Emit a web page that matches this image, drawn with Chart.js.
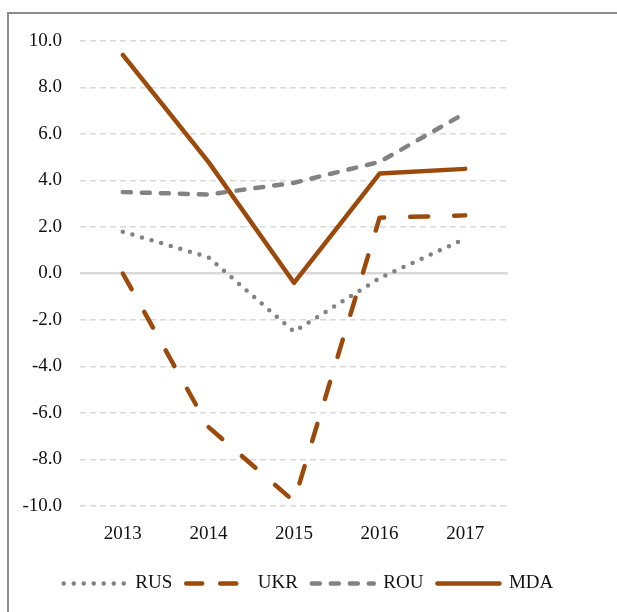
<!DOCTYPE html>
<html>
<head>
<meta charset="utf-8">
<script src="https://cdn.jsdelivr.net/npm/chart.js@4"></script>
<style>
  body { margin: 0; background: #fff; overflow: hidden; }
  #frame { position: absolute; left: 7px; top: 12px; width: 640px; height: 640px; border: 2px solid #8c8c8c; box-sizing: border-box; }
  #wrap { position: absolute; left: 0; top: 0; width: 617px; height: 612px; }
</style>
</head>
<body>
<div id="frame"></div>
<div id="wrap"><canvas id="chart"></canvas></div>
<script>
const years = ["2013", "2014", "2015", "2016", "2017"];
const rus = [1.8, 0.7, -2.5, -0.2, 1.5];
const ukr = [0.0, -6.6, -9.8, 2.4, 2.5];
const rou = [3.5, 3.4, 3.9, 4.8, 6.9];
const mda = [9.4, 4.8, -0.4, 4.3, 4.5];

const brown = "#9c4a0b";
const grey = "#828282";
const serif = "'Liberation Serif', 'DejaVu Serif', serif";

const ctx = document.getElementById("chart").getContext("2d");

new Chart(ctx, {
    type: "line",
    data: {
        labels: years,
        datasets: [
            { label: "RUS", data: rus, borderColor: grey, backgroundColor: grey, borderWidth: 4.5, borderDash: [0, 10], borderCapStyle: "round" },
            { label: "UKR", data: ukr, borderColor: brown, backgroundColor: brown, borderWidth: 4.5, borderDash: [18, 26], borderCapStyle: "round" },
            { label: "ROU", data: rou, borderColor: grey, backgroundColor: grey, borderWidth: 4.5, borderDash: [8, 11], borderCapStyle: "round" },
            { label: "MDA", data: mda, borderColor: brown, backgroundColor: brown, borderWidth: 4.5, borderCapStyle: "round" }
        ]
    },
    options: {
        responsive: true,
        maintainAspectRatio: false,
        animation: false,
        layout: { padding: { left: 0, right: 0, top: 41, bottom: 9 } },
        elements: {
            point: { radius: 0, hoverRadius: 0 },
            line: { tension: 0, borderJoinStyle: "round", fill: false }
        },
        plugins: {
            tooltip: { enabled: false },
            legend: {
                position: "bottom",
                labels: {
                    usePointStyle: true,
                    pointStyle: "line",
                    pointStyleWidth: 62,
                    boxWidth: 62,
                    padding: 14,
                    color: "#111",
                    font: { family: serif, size: 19 },
                    generateLabels: chart => chart.data.datasets.map((ds, i) => ({
                        text: ds.label,
                        datasetIndex: i,
                        fillStyle: ds.borderColor,
                        strokeStyle: ds.borderColor,
                        lineWidth: ds.borderWidth,
                        lineDash: ds.label === "UKR" ? [16, 18] : (ds.borderDash || []),
                        lineCap: "round",
                        pointStyle: "line",
                        fontColor: "#111",
                        hidden: false
                    }))
                }
            }
        },
        scales: {
            x: {
                offset: true,
                grid: { display: false, drawTicks: false },
                border: { display: false },
                ticks: { color: "#111", padding: 17, font: { family: serif, size: 19 } },
                afterFit: scale => { scale.height = 54; }
            },
            y: {
                min: -10,
                max: 10,
                grid: {
                    drawTicks: false,
                    color: "#d9d9d9",
                    lineWidth: c => c.tick && c.tick.value === 0 ? 2.5 : 1.5
                },
                border: {
                    display: false,
                    dash: c => c.tick && c.tick.value === 0 ? [] : [6, 4]
                },
                ticks: {
                    stepSize: 2,
                    padding: 18,
                    color: "#111",
                    font: { family: serif, size: 19 },
                    callback: v => v.toFixed(1)
                },
                afterFit: scale => { scale.width = 80; }
            },
            // empty right-hand axis: keeps the plot narrow while the legend uses the full width
            side: {
                position: "right",
                grid: { display: false, drawTicks: false },
                border: { display: false },
                ticks: { display: false },
                afterFit: scale => { scale.width = 109; }
            }
        }
    }
});
</script>
</body>
</html>
